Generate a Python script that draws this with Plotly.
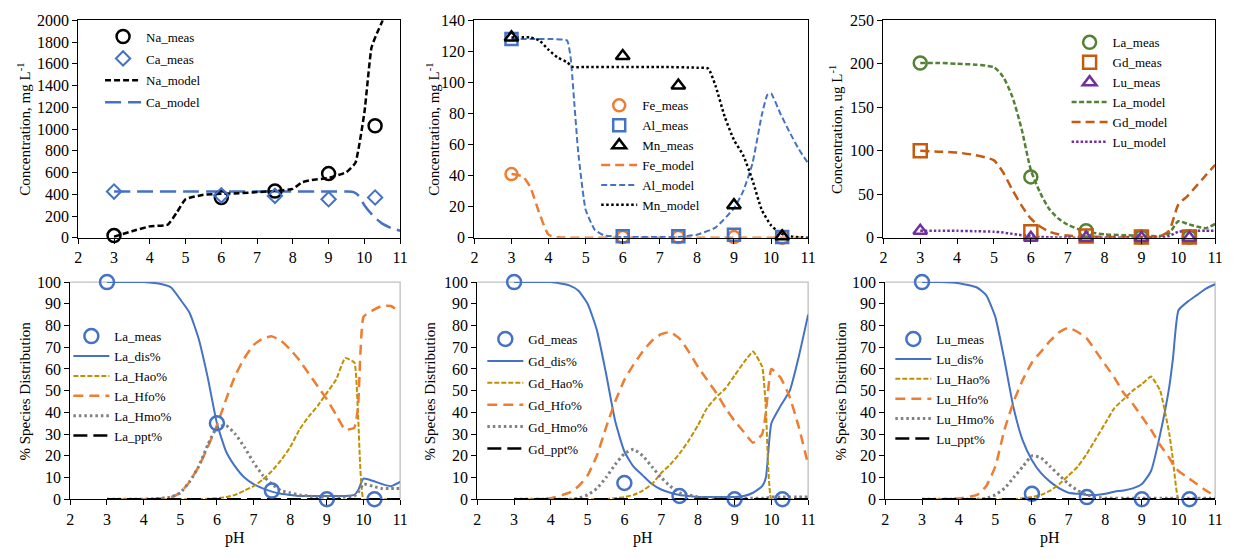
import plotly.graph_objects as go

# ---------------- data ----------------
PH_MEAS = [3, 6, 7.5, 9, 10.3]

# Panel 1: major cations (mg/L)
na_meas = [20, 370, 430, 590, 1030]
ca_meas = [425, 390, 385, 355, 370]
na_ph = [3, 3.5, 4, 4.5, 4.75, 5, 5.5, 6, 6.5, 7, 7.5, 8, 8.25, 8.5, 9, 9.5, 9.75, 10, 10.2, 10.35, 10.5, 10.6]
na_model = [10, 60, 105, 120, 230, 355, 395, 405, 410, 420, 430, 450, 510, 530, 550, 605, 690, 1150, 1750, 1880, 1990, 2080]
ca_ph = [3, 4, 5, 6, 7, 8, 9, 9.5, 9.7, 9.85, 10, 10.25, 10.5, 10.75, 11]
ca_model = [425, 425, 425, 425, 425, 425, 425, 425, 420, 385, 300, 200, 130, 90, 65]

# Panel 2: Fe, Al, Mn (mg/L)
fe_meas = [41, 0.5, 0.5, 0.5, 0]
al_meas = [128, 1, 1, 2, 0.5]
mn_meas = [129, 117, 98, 21, 1]
fe_ph = [3, 3.3, 3.5, 3.75, 4, 4.25, 4.5, 5, 6, 7, 8, 9, 10, 11]
fe_model = [41, 39.5, 33, 16, 2, 0.3, 0.1, 0, 0, 0, 0, 0, 0, 0]
al_ph = [3, 3.5, 4, 4.5, 4.6, 4.7, 4.8, 5, 5.25, 5.5, 6, 7, 7.5, 8, 8.5, 9, 9.25, 9.5, 9.75, 9.9, 10, 10.25, 10.5, 10.75, 11]
al_model = [128, 128, 128, 127, 115, 85, 55, 18, 5, 1.5, 0.5, 0.5, 0.5, 2, 6.5, 19, 30, 48, 79, 92, 93, 80, 68, 57, 48]
mn_ph = [3, 3.5, 3.75, 4, 4.25, 4.5, 4.65, 5, 6, 7, 8, 8.3, 8.5, 8.75, 9, 9.25, 9.5, 9.75, 10, 10.25, 10.5, 11]
mn_model = [129, 129, 127, 121, 116, 113, 110, 110, 110, 110, 109.5, 109, 98, 78, 63, 53, 37, 18, 8, 3, 1, 0]

# Panel 3: REE (ug/L)
la_meas = [201, 70, 8, 1, 1]
gd_meas = [100, 7, 2, 1, 1]
lu_meas = [8, 0, 0, 0, 0]
ree_ph = [3, 3.5, 4, 4.5, 5, 5.25, 5.5, 5.75, 6, 6.25, 6.5, 6.75, 7, 7.5, 8, 8.5, 9, 9.5, 9.75, 10, 10.25, 10.5, 10.75, 11]
la_model = [201, 201, 200, 199, 196, 185, 162, 125, 78, 52, 33, 22, 15, 7, 4, 3, 2.5, 2, 5, 19, 16, 13, 11, 16]
gd_model = [100, 99, 98, 95, 89, 75, 55, 37, 22, 13, 7, 4, 2.5, 1.5, 1, 1, 1, 1.5, 8, 38, 48, 60, 72, 84]
lu_model = [8, 8, 8, 7.5, 7, 6, 4.5, 3, 2, 1, 0.5, 0.3, 0.2, 0, 0, 0, 0, 0, 2, 7, 8, 8, 8, 8]

# Panels 4-6: species distribution (%)
sp_ph = [3, 3.5, 4, 4.5, 4.75, 5, 5.25, 5.5, 5.75, 6, 6.25, 6.5, 6.75, 7, 7.25, 7.5, 7.75,
         8, 8.25, 8.5, 8.75, 9, 9.25, 9.5, 9.75, 9.85, 10, 10.25, 10.5, 10.75, 11]

la_pct_meas = [100, 35, 4, 0, 0]
la_dis = [100, 100, 100, 99, 97.5, 92, 86, 74, 56, 35, 22, 15, 10, 7, 5, 3.5, 2.5,
          2, 1.5, 1.5, 1.5, 1.5, 1.5, 1.5, 2, 4, 9.5, 8.5, 7, 6, 8]
la_hao = [0, 0, 0, 0, 0, 0, 0, 0, 0.2, 0.5, 1, 2, 4, 6, 9, 13, 18,
          24, 32, 38, 43, 49, 55, 65, 63, 40, 0, 0, 0, 0, 0]
la_hfo = [0, 0, 0, 0.5, 1, 3, 8, 15, 24, 34, 46, 57, 65, 71, 74, 75, 73,
          69, 64, 58, 52, 46, 39, 32, 33, 42, 84, 87, 89, 89, 86]
la_hmo = [0, 0, 0, 0.5, 1, 3, 8, 15, 25, 33, 34, 30, 24, 17, 11, 7, 4,
          3, 2, 1.5, 1, 1, 1, 1, 1.5, 3, 7, 6, 5, 5, 5]
la_ppt = [0] * 31

gd_pct_meas = [100, 7.5, 1.5, 0, 0]
gd_dis = [100, 100, 100, 98.5, 96, 90, 78, 58, 36, 22, 15, 11, 7, 4.5, 3, 2, 1.5,
          1, 1, 1, 1, 1, 1.5, 3, 6, 10, 35, 43, 50, 66, 85]
gd_hao = [0, 0, 0, 0, 0, 0, 0, 0, 0.5, 1, 2, 4, 7, 12, 16, 21, 27,
          34, 42, 47, 51, 57, 63, 68, 61, 42, 0, 0, 0, 0, 0]
gd_hfo = [0, 0, 0.5, 3, 6, 11, 20, 33, 45, 55, 62, 68, 73, 76, 77, 74, 68,
          61, 55, 49, 42, 36, 31, 26, 30, 40, 60, 56, 47, 33, 16]
gd_hmo = [0, 0, 0, 0, 0.5, 2, 5, 10, 16, 21, 23, 20, 15, 10, 6, 3, 2,
          1, 0.5, 0.5, 0.5, 0.5, 0.5, 0.5, 0.5, 0.5, 1, 1, 1, 1, 1]
gd_ppt = [0] * 31

lu_pct_meas = [100, 2.5, 1, 0, 0]
lu_dis = [100, 100, 99.5, 97.5, 94, 84, 64, 42, 27, 18, 12, 8, 5, 3, 2.5, 2, 2,
          2.5, 3.5, 4, 5, 7, 13, 30, 52, 65, 87, 91, 94, 97, 99]
lu_hao = [0, 0, 0, 0, 0, 0, 0, 0, 0.5, 1, 2, 4, 7, 11, 15, 21, 28,
          35, 42, 46, 50, 53, 56.5, 50, 30, 18, 0, 0, 0, 0, 0]
lu_hfo = [0, 0, 0.3, 2, 6, 15, 32, 45, 55, 63, 68, 73, 77, 79, 77, 74, 68,
          62, 56, 49, 44, 38, 32, 25, 19, 16, 13, 10, 7, 4, 1.5]
lu_hmo = [0, 0, 0, 0, 0.5, 2, 5, 10, 15, 20, 19, 15, 11, 7, 4, 2, 1,
          0.5, 0.5, 0.5, 0.5, 0.5, 0.5, 0.5, 0.5, 0.5, 0.5, 0.5, 0.5, 0.5, 0.5]
lu_ppt = [0] * 31

# ---------------- styling ----------------
FONT = "Liberation Serif"
BLUE = "#4472C4"
ORANGE = "#ED7D31"
DKORANGE = "#C55A11"
GREEN = "#548235"
PURPLE = "#7030A0"
GOLD = "#BF9000"
GRAY = "#808080"
W, H = 1238, 558

fig = go.Figure()


def axes_for(n):
    return ("x" if n == 1 else f"x{n}", "y" if n == 1 else f"y{n}",
            "legend" if n == 1 else f"legend{n}")


def meas(x, y, name, n, symbol, color, size=12, lw=2.5):
    xa, ya, lg = axes_for(n)
    fig.add_trace(go.Scatter(
        x=x, y=y, name=name, mode="markers", legendgroup=name, legend=lg,
        xaxis=xa, yaxis=ya,
        marker=dict(symbol=symbol, size=size, color=color, line=dict(color=color, width=lw)),
        cliponaxis=False))


def model(x, y, name, n, color, dash, width=2.5, smooth=0.6):
    xa, ya, lg = axes_for(n)
    fig.add_trace(go.Scatter(
        x=x, y=y, name=name, mode="lines", legendgroup=name, legend=lg,
        xaxis=xa, yaxis=ya,
        line=dict(color=color, dash=dash, width=width, shape="spline", smoothing=smooth)))


# Panel 1
model(ca_ph, ca_model, "Ca_model", 1, BLUE, "16px,7px", 2.5)
model(na_ph, na_model, "Na_model", 1, "black", "6px,3px", 2.5, 0.4)
meas(PH_MEAS, na_meas, "Na_meas", 1, "circle-open", "black", 13, 2.5)
meas(PH_MEAS, ca_meas, "Ca_meas", 1, "diamond-open", BLUE, 11, 2)

# Panel 2
model(fe_ph, fe_model, "Fe_model", 2, ORANGE, "9px,5px", 2.5)
model(al_ph, al_model, "Al_model", 2, BLUE, "6px,3px", 2, 0.4)
model(mn_ph, mn_model, "Mn_model", 2, "black", "2.5px,2.5px", 2.5)
meas(PH_MEAS, fe_meas, "Fe_meas", 2, "circle-open", ORANGE, 12, 2.5)
meas(PH_MEAS, al_meas, "Al_meas", 2, "square-open", BLUE, 12, 2.5)
meas(PH_MEAS, mn_meas, "Mn_meas", 2, "triangle-up-open", "black", 12, 2.5)

# Panel 3
model(ree_ph, la_model, "La_model", 3, GREEN, "5px,2.5px", 2.5)
model(ree_ph, gd_model, "Gd_model", 3, DKORANGE, "9px,5px", 2.5)
model(ree_ph, lu_model, "Lu_model", 3, PURPLE, "2.5px,2px", 2.5)
meas(PH_MEAS, la_meas, "La_meas", 3, "circle-open", GREEN, 13, 2.5)
meas(PH_MEAS, gd_meas, "Gd_meas", 3, "square-open", DKORANGE, 13, 2.5)
meas(PH_MEAS, lu_meas, "Lu_meas", 3, "triangle-up-open", PURPLE, 12, 2.5)

# Panels 4-6
for n, el, pm, dis, hao, hfo, hmo, ppt in [
        (4, "La", la_pct_meas, la_dis, la_hao, la_hfo, la_hmo, la_ppt),
        (5, "Gd", gd_pct_meas, gd_dis, gd_hao, gd_hfo, gd_hmo, gd_ppt),
        (6, "Lu", lu_pct_meas, lu_dis, lu_hao, lu_hfo, lu_hmo, lu_ppt)]:
    model(sp_ph, dis, f"{el}_dis%", n, BLUE, "solid", 2, 0.5)
    model(sp_ph, hao, f"{el}_Hao%", n, GOLD, "5px,2px", 2, 0.4)
    model(sp_ph, hfo, f"{el}_Hfo%", n, ORANGE, "10px,6px", 2.5, 0.4)
    model(sp_ph, hmo, f"{el}_Hmo%", n, GRAY, "2.5px,3px", 3, 0.5)
    model(sp_ph, ppt, f"{el}_ppt%", n, "black", "14px,6px", 2.5)
    meas(PH_MEAS, pm, f"{el}_meas", n, "circle-open", BLUE, 14, 2.5)

# legend order within each panel
order = {
    1: ["Na_meas", "Ca_meas", "Na_model", "Ca_model"],
    2: ["Fe_meas", "Al_meas", "Mn_meas", "Fe_model", "Al_model", "Mn_model"],
    3: ["La_meas", "Gd_meas", "Lu_meas", "La_model", "Gd_model", "Lu_model"],
}
for n, el in [(4, "La"), (5, "Gd"), (6, "Lu")]:
    order[n] = [f"{el}_meas", f"{el}_dis%", f"{el}_Hao%", f"{el}_Hfo%", f"{el}_Hmo%", f"{el}_ppt%"]
for tr in fig.data:
    for n, names in order.items():
        if tr.name in names and tr.legend == axes_for(n)[2]:
            tr.legendrank = names.index(tr.name) + 1

# ---------------- layout ----------------
def px_x(p):
    return p / W


def px_y(p):
    return 1 - p / H


# plot areas in pixels: (left, right, top, bottom)
areas = {
    1: (75, 400, 12.7, 237), 2: (475, 812, 12.7, 237), 3: (888, 1223, 12.7, 237),
    4: (67, 400, 282.7, 506.7), 5: (478, 812, 282.7, 506.7), 6: (890, 1223, 282.7, 506.7),
}
yranges = {1: (0, 2000, 200), 2: (0, 140, 20), 3: (0, 250, 50),
           4: (0, 100, 10), 5: (0, 100, 10), 6: (0, 100, 10)}

tickfont = dict(family=FONT, size=16, color="black")
layout = dict(width=W, height=H, margin=dict(l=0, r=0, t=0, b=0),
              paper_bgcolor="white", plot_bgcolor="white", showlegend=True,
              font=dict(family=FONT, color="black"))

for n, (l, r, t, b) in areas.items():
    top_row = n <= 3
    sx = "" if n == 1 else str(n)
    layout[f"xaxis{sx}"] = dict(
        domain=[px_x(l), px_x(r)], anchor=f"y{sx}", range=[2, 11], dtick=1, tick0=2,
        showline=True, linecolor="black", linewidth=1.3, mirror=top_row,
        ticks="outside", ticklen=5, tickcolor="black", showgrid=False, zeroline=False,
        tickfont=tickfont, fixedrange=True)
    y0, y1, dy = yranges[n]
    layout[f"yaxis{sx}"] = dict(
        domain=[px_y(b), px_y(t)], anchor=f"x{sx}", range=[y0, y1], dtick=dy, tick0=0,
        showline=True, linecolor="black", linewidth=1.3, mirror=top_row,
        ticks="outside", ticklen=5, tickcolor="black", showgrid=False, zeroline=False,
        tickfont=tickfont, fixedrange=True)

# light frame on top/right edges of the species-distribution panels
shapes = []
for n in (4, 5, 6):
    shapes.append(dict(type="path", xref=f"x{n} domain", yref=f"y{n} domain",
                       path="M 0 1 L 1 1 L 1 0", line=dict(color="#BFBFBF", width=1.3),
                       layer="below"))
layout["shapes"] = shapes

# legends: (left px, top px, gap between entries px)
legend_pos = {1: (97, 14, 2), 2: (598, 85, 0), 3: (1073, 20, 0),
              4: (65, 323, 0), 5: (483, 326, 2), 6: (895, 326, 0)}
for n, (lx, ty, gap) in legend_pos.items():
    layout[axes_for(n)[2]] = dict(
        x=px_x(lx), y=px_y(ty), xanchor="left", yanchor="top",
        xref="paper", yref="paper", bgcolor="rgba(0,0,0,0)",
        borderwidth=0, itemwidth=36,
        traceorder="grouped" if gap else "normal", tracegroupgap=gap,
        font=dict(family=FONT, size=13, color="black"))

# axis titles
ann = []
ytitles = {1: ("Concentration, mg L<sup>-1</sup>", 20), 2: ("Concentration, mg L<sup>-1</sup>", 433),
           3: ("Concentration, ug L<sup>-1</sup>", 840), 4: ("% Species Distribution", 21),
           5: ("% Species Distribution", 430), 6: ("% Species Distribution", 845)}
for n, (txt, xc) in ytitles.items():
    l, r, t, b = areas[n]
    ann.append(dict(text=txt, x=px_x(xc), y=px_y((t + b) / 2), xref="paper", yref="paper",
                    textangle=-90, showarrow=False, xanchor="center", yanchor="middle",
                    font=dict(family=FONT, size=15, color="black")))
for n in (4, 5, 6):
    l, r, t, b = areas[n]
    ann.append(dict(text="pH", x=px_x((l + r) / 2), y=px_y(547), xref="paper", yref="paper",
                    showarrow=False, xanchor="center", yanchor="middle",
                    font=dict(family=FONT, size=16, color="black")))
layout["annotations"] = ann

fig.update_layout(**layout)
fig.write_html("out.html")
